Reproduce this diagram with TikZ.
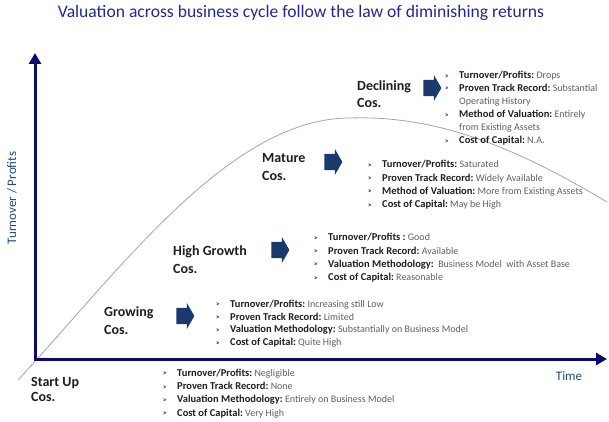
\documentclass[tikz,border=0pt]{standalone}
\usepackage{fontspec}
\setmainfont{Carlito}
\usetikzlibrary{arrows.meta,shapes.arrows}
\definecolor{axisnavy}{RGB}{10,10,110}
\definecolor{titlec}{RGB}{38,38,145}
\definecolor{labelblue}{RGB}{31,73,125}
\definecolor{arrowfill}{RGB}{24,58,108}
\definecolor{curvec}{RGB}{160,160,200}
\definecolor{boldc}{RGB}{30,30,30}
\definecolor{valc}{RGB}{95,95,95}
\newcommand\blt{\makebox[14pt][l]{\raisebox{0.5pt}{\textcolor{boldc}{\fontsize{7}{7}\selectfont\bfseries >}}}}
\newcommand\itm[2]{\blt\textcolor{boldc}{\fontsize{10.5}{13}\selectfont\bfseries #1}\ \textcolor{valc}{#2}}
\newcommand\cnt[1]{\hspace*{14pt}\textcolor{valc}{#1}}
\tikzset{
  axisline/.style={draw=axisnavy,line width=3pt,-{Triangle[length=11pt,width=12pt]}},
  stagelabel/.style={anchor=base west,inner sep=0pt,align=left,font=\fontsize{14}{17.5}\selectfont\bfseries,text=boldc},
  itemlist/.style={anchor=base west,inner sep=0pt,align=left,font=\fontsize{10}{13.2}\selectfont},
  blockarrow/.style={single arrow,fill=arrowfill,draw=none,inner xsep=0pt,inner ysep=8pt,
    minimum height=18pt,single arrow head extend=5pt,single arrow tip angle=120},
  axislabel/.style={inner sep=0pt,font=\fontsize{13}{15}\selectfont,text=labelblue},
}
\begin{document}
\begin{tikzpicture}[x=1pt,y=-1pt]
\useasboundingbox (0,0) rectangle (609,422);
% title
\node[anchor=base,inner sep=0pt,font=\fontsize{17.6}{20}\selectfont,text=titlec] (title) at (301,17.5)
  {Valuation across business cycle follow the law of diminishing returns};
% curve
\coordinate (cstart) at (18,380);
\coordinate (cpeak) at (350,118);
\coordinate (cend) at (607,202);
\draw[curvec,line width=0.8pt] (cstart) .. controls (120,270) and (230,118) .. (cpeak)
  .. controls (440,115) and (520,150) .. (cend);
% axes
\coordinate (origin) at (35,359);
\coordinate (ytip) at (35,53);
\coordinate (xtip) at (607,359);
\draw[axisline] ([yshift=1.5pt]origin) -- (ytip);
\draw[axisline] ([xshift=-1.5pt]origin) -- (xtip);
\node[axislabel,rotate=90] (ylabel) at (12,198) {Turnover / Profits};
\node[axislabel] (xlabel) at (569,376) {Time};
% stage labels (anchored at the baseline of their last line)
\node[stagelabel] (lab5) at (357,108) {Declining\\Cos.};
\node[stagelabel] (lab4) at (262,180) {Mature\\Cos.};
\node[stagelabel] (lab3) at (173,273) {High Growth\\Cos.};
\node[stagelabel] (lab2) at (104,334) {Growing\\Cos.};
\node[stagelabel,font=\fontsize{14}{15}\selectfont\bfseries] (lab1) at (31,401) {Start Up\\Cos.};
% block arrows
\node[blockarrow] (arr5) at (430,88) {};
\node[blockarrow] (arr4) at (331,162) {};
\node[blockarrow] (arr3) at (278,250) {};
\node[blockarrow] (arr2) at (183,316) {};
% lists (anchored at the baseline of their last line)
\node[itemlist,font=\fontsize{10}{13}\selectfont] (list5) at (445,143.5) {%
\itm{Turnover/Profits:}{Drops}\\
\itm{Proven Track Record:}{Substantial}\\
\cnt{Operating History}\\
\itm{Method of Valuation:}{Entirely}\\
\cnt{from Existing Assets}\\
\itm{Cost of Capital:}{N.A.}};
\node[itemlist] (list4) at (368,207.5) {%
\itm{Turnover/Profits:}{Saturated}\\
\itm{Proven Track Record:}{Widely Available}\\
\itm{Method of Valuation:}{More from Existing Assets}\\
\itm{Cost of Capital:}{May be High}};
\node[itemlist] (list3) at (314,280.5) {%
\itm{Turnover/Profits :}{Good}\\
\itm{Proven Track Record:}{Available}\\
\itm{Valuation Methodology:}{\ Business Model \ with Asset Base}\\
\itm{Cost of Capital:}{Reasonable}};
\node[itemlist,font=\fontsize{10}{12.7}\selectfont] (list2) at (216,345.5) {%
\itm{Turnover/Profits:}{Increasing still Low}\\
\itm{Proven Track Record:}{Limited}\\
\itm{Valuation Methodology:}{Substantially on Business Model}\\
\itm{Cost of Capital:}{Quite High}};
\node[itemlist] (list1) at (163,416) {%
\itm{Turnover/Profits:}{Negligible}\\
\itm{Proven Track Record:}{None}\\
\itm{Valuation Methodology:}{Entirely on Business Model}\\
\itm{Cost of Capital:}{Very High}};
\end{tikzpicture}
\end{document}
